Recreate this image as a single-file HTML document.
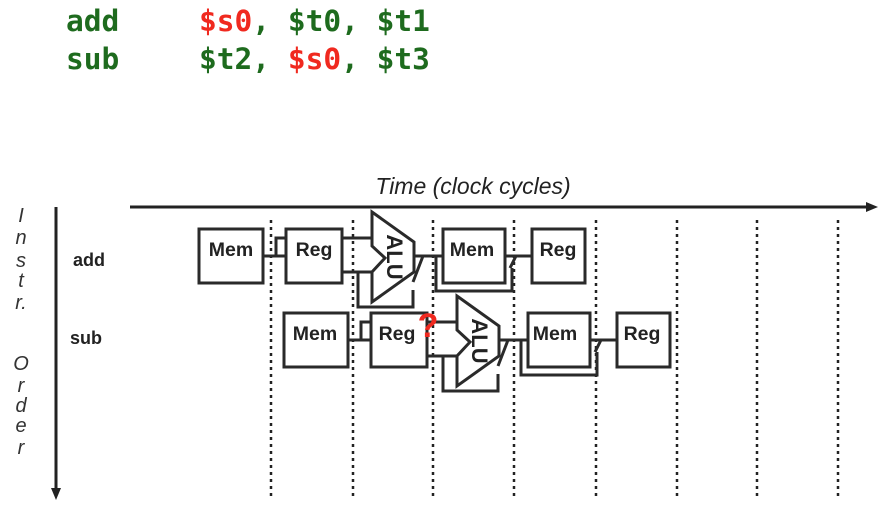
<!DOCTYPE html>
<html><head><meta charset="utf-8"><style>
html,body{margin:0;padding:0;background:#fff;}
body{width:894px;height:520px;overflow:hidden;}
</style></head><body>
<svg width="894" height="520" viewBox="0 0 894 520" xmlns="http://www.w3.org/2000/svg">
<g font-family="DejaVu Sans Mono, Liberation Mono, monospace" font-size="29.5" font-weight="bold">
<text x="66" y="31" fill="#1e6b1e">add</text>
<text x="199" y="31" fill="#f0291f">$s0<tspan fill="#1e6b1e">, $t0, $t1</tspan></text>
<text x="66" y="69" fill="#1e6b1e">sub</text>
<text x="199" y="69" fill="#1e6b1e">$t2, <tspan fill="#f0291f">$s0</tspan>, $t3</text>
</g>
<text x="473" y="194" text-anchor="middle" font-family="Liberation Sans, sans-serif" font-style="italic" font-size="23" fill="#222">Time (clock cycles)</text>
<line x1="130" y1="207" x2="870" y2="207" stroke="#222" stroke-width="3"/>
<polygon points="878,207 866,202 866,212" fill="#222"/>
<line x1="56" y1="207" x2="56" y2="492" stroke="#222" stroke-width="3"/>
<polygon points="56,500 51,488 61,488" fill="#222"/>
<g font-family="Liberation Sans, sans-serif" font-style="italic" font-size="20" fill="#333" text-anchor="middle">
<text x="21" y="222">I</text><text x="21" y="244">n</text><text x="21" y="267">s</text><text x="21" y="287">t</text><text x="21" y="309">r.</text>
<text x="21" y="370">O</text><text x="21" y="392">r</text><text x="21" y="412">d</text><text x="21" y="432">e</text><text x="21" y="454">r</text>
</g>
<g font-family="Liberation Sans, sans-serif" font-weight="bold" font-size="18" fill="#222">
<text x="73" y="266">add</text><text x="70" y="344">sub</text>
</g>
<g stroke="#222" stroke-width="2.5" stroke-dasharray="3,4">
<line x1="271" y1="220" x2="271" y2="500"/><line x1="353" y1="220" x2="353" y2="500"/>
<line x1="433" y1="220" x2="433" y2="500"/><line x1="514" y1="220" x2="514" y2="500"/>
<line x1="596" y1="220" x2="596" y2="500"/><line x1="677" y1="220" x2="677" y2="500"/>
<line x1="757" y1="220" x2="757" y2="500"/><line x1="838" y1="220" x2="838" y2="500"/>
</g>
<defs>
<g id="row" fill="none" stroke="#2a2a2a" stroke-width="3">
<rect x="199" y="229" width="64" height="54" fill="#fff"/>
<rect x="286" y="229" width="56" height="54" fill="#fff"/>
<polyline points="263,256 286,256"/>
<polyline points="276,256 276,238 286,238"/>
<line x1="342" y1="238" x2="372" y2="238"/>
<line x1="342" y1="272" x2="372" y2="272"/>
<polyline points="358,272 358,307 413,307 413,290"/>
<polygon points="372,212 414,242 414,272 372,302 372,272 385,258 372,246" fill="#fff"/>
<line x1="414" y1="256" x2="443" y2="256"/>
<line x1="413" y1="282" x2="423" y2="256"/>
<polyline points="436,256 436,291 512,291 512,268"/>
<rect x="443" y="229" width="62" height="54" fill="#fff"/>
<line x1="505" y1="256" x2="532" y2="256"/>
<line x1="510" y1="268" x2="516" y2="256"/>
<rect x="532" y="229" width="53" height="54" fill="#fff"/>
</g>
</defs>
<use href="#row"/>
<use href="#row" transform="translate(85,84)"/>
<g font-family="Liberation Sans, sans-serif" font-weight="bold" font-size="19.5" fill="#222" text-anchor="middle">
<text x="231" y="256">Mem</text><text x="314" y="256">Reg</text><text x="472" y="256">Mem</text><text x="558" y="256">Reg</text>
<text x="315" y="340">Mem</text><text x="397" y="340">Reg</text><text x="555" y="340">Mem</text><text x="642" y="340">Reg</text>
<text transform="translate(387,257) rotate(90)" font-size="22">ALU</text>
<text transform="translate(472,341) rotate(90)" font-size="22">ALU</text>
</g>
<text x="428" y="337" text-anchor="middle" font-family="Liberation Sans, sans-serif" font-weight="bold" font-size="34" fill="#f0291f">?</text>
</svg>
</body></html>
